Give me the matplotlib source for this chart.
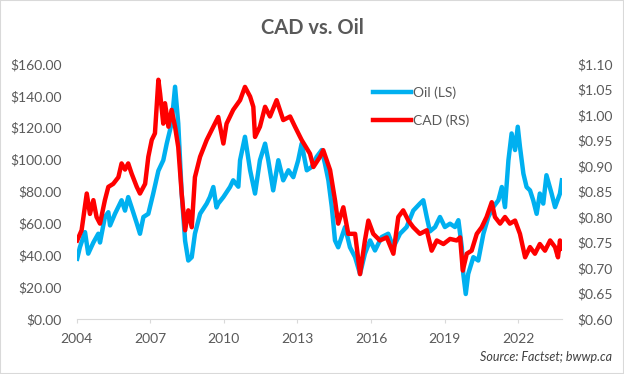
import matplotlib
matplotlib.use('Agg')
import matplotlib.pyplot as plt
from matplotlib.patches import Rectangle

plt.rcParams['font.family'] = ['Lato', 'DejaVu Sans']

# oil price, left scale (USD / bbl)
oil_years = [2004.02, 2004.13, 2004.34, 2004.47, 2004.68, 2004.88, 2004.95, 2005.15, 2005.29, 2005.36,
             2005.56, 2005.83, 2005.97, 2006.10, 2006.24, 2006.45, 2006.58, 2006.72, 2006.92, 2007.12,
             2007.33, 2007.53, 2007.67, 2007.87, 2008.01, 2008.14, 2008.28, 2008.42, 2008.55, 2008.69,
             2008.82, 2009.03, 2009.30, 2009.43, 2009.57, 2009.70, 2009.77, 2009.98, 2010.25, 2010.38,
             2010.59, 2010.66, 2010.86, 2011.07, 2011.27, 2011.47, 2011.68, 2011.81, 2012.01, 2012.22,
             2012.42, 2012.63, 2012.83, 2013.03, 2013.17, 2013.38, 2013.58, 2013.78, 2013.99, 2014.12,
             2014.26, 2014.40, 2014.53, 2014.66, 2014.80, 2014.94, 2015.14, 2015.35, 2015.55, 2015.75,
             2015.96, 2016.16, 2016.43, 2016.70, 2016.91, 2017.18, 2017.45, 2017.72, 2017.99, 2018.13,
             2018.27, 2018.40, 2018.61, 2018.81, 2019.01, 2019.22, 2019.42, 2019.56, 2019.70, 2019.76,
             2019.86, 2019.96, 2020.17, 2020.37, 2020.58, 2020.78, 2020.98, 2021.19, 2021.33, 2021.46,
             2021.60, 2021.73, 2021.87, 2021.98, 2022.07, 2022.21, 2022.34, 2022.48, 2022.61, 2022.75,
             2022.88, 2023.02, 2023.15, 2023.36, 2023.50, 2023.70, 2023.78]
oil_price = [37.8, 45.0, 54.5, 41.0, 48.0, 53.5, 48.0, 64.0, 67.0, 58.7,
             66.0, 74.5, 68.0, 76.5, 70.0, 60.0, 53.5, 64.0, 66.0, 78.7,
             93.0, 99.6, 110.0, 122.7, 145.7, 122.7, 78.7, 49.0, 36.7, 38.8,
             53.5, 66.0, 72.4, 76.5, 82.8, 70.0, 72.4, 76.5, 82.8, 87.0,
             83.0, 99.6, 114.3, 93.3, 78.7, 99.6, 110.0, 99.6, 80.7, 99.6,
             87.0, 93.3, 89.0, 99.6, 110.0, 93.3, 95.4, 101.7, 106.0, 97.5,
             87.0, 70.2, 49.3, 45.0, 51.4, 57.7, 45.0, 38.8, 28.3, 41.0,
             49.3, 43.0, 51.4, 53.5, 45.0, 53.5, 57.7, 68.0, 72.4, 74.5,
             64.0, 55.0, 57.7, 64.0, 57.7, 59.8, 57.7, 62.0, 45.0, 28.3,
             15.7, 28.3, 38.8, 36.7, 53.5, 64.0, 70.2, 74.5, 82.8, 70.2,
             99.6, 116.4, 106.0, 120.6, 108.0, 91.2, 82.8, 80.7, 74.5, 66.0,
             78.7, 72.4, 90.2, 78.7, 70.2, 78.7, 87.0]

# CAD in USD, right scale
cad_years = [2004.02, 2004.20, 2004.41, 2004.54, 2004.68, 2004.81, 2004.95, 2005.15, 2005.29, 2005.49,
             2005.70, 2005.83, 2005.97, 2006.10, 2006.24, 2006.45, 2006.58, 2006.79, 2006.92, 2007.06,
             2007.19, 2007.33, 2007.40, 2007.53, 2007.60, 2007.74, 2007.87, 2008.01, 2008.14, 2008.28,
             2008.42, 2008.55, 2008.69, 2008.82, 2009.03, 2009.30, 2009.57, 2009.77, 2009.98, 2010.11,
             2010.38, 2010.66, 2010.86, 2011.07, 2011.20, 2011.27, 2011.47, 2011.68, 2011.88, 2012.15,
             2012.42, 2012.70, 2012.90, 2013.17, 2013.51, 2013.65, 2013.92, 2014.05, 2014.33, 2014.53,
             2014.66, 2014.87, 2015.07, 2015.35, 2015.55, 2015.75, 2015.89, 2016.09, 2016.36, 2016.64,
             2016.91, 2017.11, 2017.31, 2017.52, 2017.72, 2017.99, 2018.27, 2018.47, 2018.68, 2018.95,
             2019.22, 2019.49, 2019.63, 2019.74, 2019.90, 2020.10, 2020.31, 2020.51, 2020.71, 2020.92,
             2021.05, 2021.26, 2021.46, 2021.66, 2021.87, 2022.07, 2022.28, 2022.48, 2022.68, 2022.88,
             2023.09, 2023.30, 2023.50, 2023.62, 2023.70, 2023.78]
cad_usd = [0.754, 0.774, 0.846, 0.806, 0.833, 0.800, 0.787, 0.833, 0.859, 0.865,
           0.878, 0.905, 0.893, 0.905, 0.885, 0.859, 0.846, 0.865, 0.918, 0.951,
           0.964, 1.069, 1.042, 0.983, 1.023, 0.977, 1.010, 0.977, 0.937, 0.846,
           0.774, 0.813, 0.780, 0.878, 0.918, 0.951, 0.977, 0.996, 0.944, 0.983,
           1.010, 1.029, 1.055, 1.036, 1.016, 0.957, 0.977, 1.016, 0.997, 1.029,
           0.990, 0.997, 0.977, 0.951, 0.924, 0.898, 0.918, 0.931, 0.892, 0.833,
           0.787, 0.819, 0.767, 0.767, 0.688, 0.754, 0.793, 0.767, 0.754, 0.760,
           0.728, 0.800, 0.813, 0.793, 0.780, 0.767, 0.774, 0.734, 0.754, 0.747,
           0.757, 0.754, 0.760, 0.695, 0.728, 0.734, 0.767, 0.780, 0.800, 0.829,
           0.800, 0.787, 0.800, 0.787, 0.793, 0.767, 0.721, 0.741, 0.728, 0.747,
           0.734, 0.754, 0.741, 0.721, 0.754, 0.738]

year_ticks = [2004, 2007, 2010, 2013, 2016, 2019, 2022]
oil_ticks = [0, 20, 40, 60, 80, 100, 120, 140, 160]
cad_ticks = [0.60, 0.65, 0.70, 0.75, 0.80, 0.85, 0.90, 0.95, 1.00, 1.05, 1.10]

grey = '#595959'
fig = plt.figure(figsize=(6.24, 3.74), dpi=100)
fig.patches.append(Rectangle((0, 0), 1, 1, transform=fig.transFigure, fill=False,
                             edgecolor='#D9D9D9', lw=1.5))

ax = fig.add_axes([0.1229, 0.147, 0.7772, 0.682])
ax2 = ax.twinx()

l1, = ax.plot(oil_years, oil_price, color='#00B0F0', lw=3.2, label='Oil (LS)',
              solid_joinstyle='round')
l2, = ax2.plot(cad_years, cad_usd, color='#FF0000', lw=3.2, label='CAD (RS)',
               solid_joinstyle='round')

ax.set_xlim(2004, 2023.77)
ax.set_ylim(0, 160)
ax2.set_ylim(0.6, 1.1)

ax.set_xticks(year_ticks)
ax.set_xticklabels([str(y) for y in year_ticks])
ax.set_yticks(oil_ticks)
ax.set_yticklabels(['${:.2f}'.format(v) for v in oil_ticks])
ax2.set_yticks(cad_ticks)
ax2.set_yticklabels(['${:.2f}'.format(v) for v in cad_ticks])

for a in (ax, ax2):
    for s in ('top', 'left', 'right'):
        a.spines[s].set_visible(False)
    a.spines['bottom'].set_color('#D9D9D9')
ax2.spines['bottom'].set_visible(False)

ax.tick_params(axis='x', length=3, color='#D9D9D9', pad=7, labelsize=10, labelcolor=grey)
ax.tick_params(axis='y', length=0, pad=11, labelsize=10, labelcolor=grey)
ax2.tick_params(axis='y', length=0, pad=11, labelsize=10, labelcolor=grey)

fig.text(0.5, 0.925, 'CAD vs. Oil', ha='center', va='center', fontsize=14.5,
         fontweight='bold', color=grey)
fig.text(0.981, 0.045, 'Source: Factset; bwwp.ca', ha='right', va='center',
         fontsize=9, style='italic', color='#404040')

ax2.legend(handles=[l1, l2], loc='upper left', bbox_to_anchor=(0.598, 0.768),
           bbox_transform=fig.transFigure, frameon=False, fontsize=10,
           labelcolor=grey, handlelength=2.7, handletextpad=0.15,
           labelspacing=1.1, borderpad=0, borderaxespad=0)

fig.savefig('out.png', dpi=100)
